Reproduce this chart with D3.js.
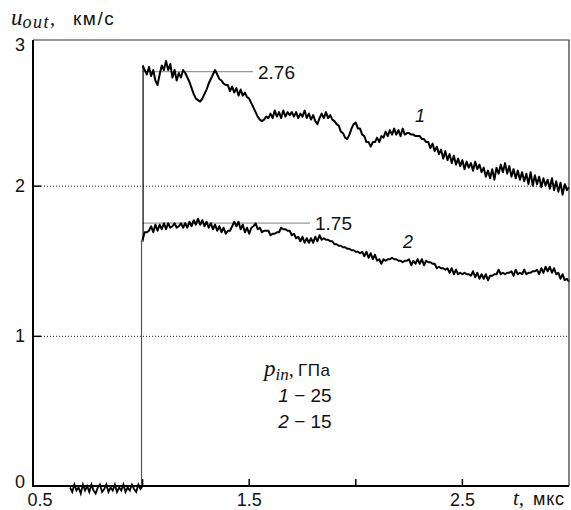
<!DOCTYPE html>
<html>
<head>
<meta charset="utf-8">
<script src="https://cdn.jsdelivr.net/npm/d3@7/dist/d3.min.js"></script>
<style>
  html, body { margin: 0; padding: 0; background: #fff; }
  svg { display: block; }
  .sans { font-family: "Liberation Sans", Arial, Helvetica, sans-serif; }
  .serif { font-family: "Liberation Serif", "Times New Roman", serif; font-style: italic; }
</style>
</head>
<body>
<svg id="chart" width="571" height="510"></svg>
<script>
// --- data ---
// sampled every 0.01 mks
const dt = 0.01;
// pre-shock noise, t = 0.66 .. 1.00
const baseStart = 0.66;
const baseline = [-0.01, -0.04, 0.01, -0.03, -0.01, -0.05, 0.01, -0.03, 0.00, -0.04,
                  0.01, -0.03, -0.05, -0.01, 0.01, -0.04, -0.02, 0.01, -0.04, -0.01,
                  -0.03, 0.01, -0.04, -0.01, -0.03, 0.01, -0.04, -0.01, -0.03, 0.01,
                  -0.02, -0.04, 0.01, -0.02, 0.00];
// curve 1 (25 GPa), t = 1.00 .. 3.00
const curveStart = 1.0;
const curve1 = [2.80, 2.77, 2.74, 2.79, 2.73, 2.77, 2.70, 2.67, 2.74, 2.80,
                2.77, 2.83, 2.77, 2.81, 2.72, 2.77, 2.70, 2.75, 2.72, 2.77,
                2.75, 2.72, 2.69, 2.65, 2.61, 2.58, 2.57, 2.56, 2.58, 2.61,
                2.64, 2.68, 2.71, 2.74, 2.77, 2.74, 2.71, 2.70, 2.68, 2.67,
                2.67, 2.63, 2.66, 2.62, 2.65, 2.60, 2.64, 2.60, 2.62, 2.59,
                2.58, 2.55, 2.52, 2.49, 2.46, 2.44, 2.43, 2.44, 2.46, 2.45,
                2.48, 2.45, 2.50, 2.46, 2.49, 2.45, 2.50, 2.46, 2.49, 2.47,
                2.49, 2.46, 2.49, 2.45, 2.48, 2.46, 2.50, 2.45, 2.48, 2.44,
                2.47, 2.43, 2.41, 2.45, 2.48, 2.45, 2.49, 2.45, 2.47, 2.44,
                2.43, 2.41, 2.40, 2.36, 2.35, 2.32, 2.31, 2.34, 2.38, 2.41,
                2.42, 2.38, 2.38, 2.34, 2.33, 2.29, 2.29, 2.26, 2.29, 2.29,
                2.32, 2.29, 2.33, 2.32, 2.36, 2.33, 2.37, 2.34, 2.38, 2.34,
                2.37, 2.33, 2.38, 2.34, 2.35, 2.35, 2.34, 2.34, 2.33, 2.33,
                2.33, 2.31, 2.31, 2.29, 2.29, 2.25, 2.28, 2.23, 2.26, 2.21,
                2.24, 2.18, 2.23, 2.17, 2.21, 2.15, 2.20, 2.14, 2.18, 2.13,
                2.17, 2.11, 2.16, 2.12, 2.15, 2.10, 2.16, 2.11, 2.14, 2.09,
                2.12, 2.06, 2.10, 2.05, 2.11, 2.04, 2.12, 2.08, 2.14, 2.09,
                2.15, 2.08, 2.13, 2.06, 2.11, 2.05, 2.10, 2.04, 2.09, 2.03,
                2.08, 2.01, 2.09, 2.00, 2.07, 2.01, 2.06, 1.99, 2.05, 2.00,
                2.04, 1.98, 2.05, 1.97, 2.03, 1.96, 2.02, 1.94, 2.01, 1.97,
                1.99];
// curve 2 (15 GPa), t = 1.00 .. 3.00
const curve2 = [1.64, 1.69, 1.69, 1.70, 1.73, 1.69, 1.74, 1.70, 1.74, 1.71,
                1.75, 1.71, 1.75, 1.72, 1.73, 1.75, 1.72, 1.73, 1.75, 1.72,
                1.75, 1.72, 1.76, 1.73, 1.77, 1.74, 1.78, 1.74, 1.77, 1.73,
                1.76, 1.72, 1.75, 1.71, 1.74, 1.70, 1.73, 1.69, 1.72, 1.68,
                1.70, 1.70, 1.73, 1.76, 1.73, 1.76, 1.71, 1.74, 1.69, 1.72,
                1.68, 1.72, 1.73, 1.75, 1.71, 1.72, 1.69, 1.70, 1.70, 1.70,
                1.67, 1.68, 1.68, 1.69, 1.69, 1.72, 1.71, 1.71, 1.70, 1.70,
                1.67, 1.68, 1.65, 1.66, 1.63, 1.66, 1.62, 1.65, 1.62, 1.65,
                1.62, 1.66, 1.63, 1.67, 1.64, 1.65, 1.64, 1.64, 1.63, 1.63,
                1.61, 1.61, 1.60, 1.60, 1.59, 1.59, 1.58, 1.58, 1.57, 1.57,
                1.56, 1.56, 1.55, 1.56, 1.53, 1.56, 1.52, 1.55, 1.51, 1.54,
                1.50, 1.51, 1.48, 1.51, 1.50, 1.51, 1.51, 1.52, 1.51, 1.51,
                1.50, 1.50, 1.49, 1.50, 1.50, 1.51, 1.47, 1.50, 1.48, 1.51,
                1.48, 1.51, 1.47, 1.50, 1.49, 1.49, 1.48, 1.48, 1.45, 1.46,
                1.45, 1.45, 1.44, 1.45, 1.42, 1.45, 1.41, 1.44, 1.41, 1.42,
                1.41, 1.42, 1.41, 1.41, 1.40, 1.43, 1.39, 1.42, 1.38, 1.41,
                1.38, 1.41, 1.37, 1.40, 1.40, 1.41, 1.41, 1.44, 1.41, 1.42,
                1.41, 1.42, 1.42, 1.43, 1.40, 1.44, 1.41, 1.42, 1.41, 1.44,
                1.41, 1.42, 1.42, 1.43, 1.43, 1.44, 1.41, 1.45, 1.42, 1.46,
                1.43, 1.46, 1.42, 1.45, 1.41, 1.42, 1.38, 1.41, 1.37, 1.38,
                1.36];
const jumpT = [1.0, 0.995];          // shock arrival, curve 1 / curve 2
const peaks = [2.76, 1.75];          // marked values
const peakLabels = ['2.76', '1.75'];
const curveNames = ['1', '2'];
const legendRows = [['1', '25'], ['2', '15']];
const yTicks = [0, 1, 2, 3];
const yGrid = [1, 2];
const xTicks = [1.0, 1.5, 2.0, 2.5];
const xTickLabels = [0.5, 1.5, 2.5];

// --- scales ---
const svg = d3.select('#chart');
const x = d3.scaleLinear().domain([0.486, 3.0]).range([33, 569]);
const y = d3.scaleLinear().domain([0, 2.97]).range([486, 40]);
const [x0, x1] = x.range();
const [yb, yt] = y.range();

const toPts = (arr, t0) => arr.map((v, i) => [t0 + i * dt, v]);
const line = d3.line().x(d => x(d[0])).y(d => y(d[1]));

// grid (dotted)
svg.append('g').selectAll('line').data(yGrid).join('line')
    .attr('x1', x0 + 8).attr('x2', x1)
    .attr('y1', d => y(d) + 0.5).attr('y2', d => y(d) + 0.5)
    .attr('stroke', '#222').attr('stroke-width', 1)
    .attr('stroke-dasharray', '1,2');

// annotation lines
peaks.forEach((p, i) => {
    svg.append('line')
        .attr('x1', x(jumpT[0])).attr('x2', i === 0 ? 253 : 310)
        .attr('y1', y(p)).attr('y2', y(p))
        .attr('stroke', '#999').attr('stroke-width', 1.2);
    svg.append('text').attr('class', 'sans')
        .attr('x', i === 0 ? 258 : 315).attr('y', y(p) + 7)
        .attr('font-size', 19).attr('fill', '#111')
        .text(peakLabels[i]);
});

// traces
svg.append('path').datum(toPts(baseline, baseStart))
    .attr('d', line).attr('fill', 'none').attr('stroke', '#000').attr('stroke-width', 1.8);

// jump fronts
svg.append('line')
    .attr('x1', x(jumpT[1])).attr('x2', x(jumpT[1]))
    .attr('y1', y(0)).attr('y2', y(curve2[0]))
    .attr('stroke', '#555').attr('stroke-width', 1.2);
svg.append('line')
    .attr('x1', x(jumpT[0]) + 0.5).attr('x2', x(jumpT[0]) + 0.5)
    .attr('y1', y(curve2[0]) + 2).attr('y2', y(curve1[0]))
    .attr('stroke', '#000').attr('stroke-width', 1.2);

[curve1, curve2].forEach(c => {
    svg.append('path').datum(toPts(c, curveStart))
        .attr('d', line).attr('fill', 'none')
        .attr('stroke', '#000').attr('stroke-width', 2)
        .attr('stroke-linejoin', 'round');
});

// frame
svg.append('path')
    .attr('d', `M${x0},${yt}H${x1}V${yb}`)
    .attr('fill', 'none').attr('stroke', '#333').attr('stroke-width', 1.2);
svg.append('path')
    .attr('d', `M${x0},${yt}V${yb}H${x1}`)
    .attr('fill', 'none').attr('stroke', '#000').attr('stroke-width', 2);

// ticks
svg.append('g').selectAll('line').data(yTicks.slice(1, -1)).join('line')
    .attr('x1', x0).attr('x2', x0 + 8)
    .attr('y1', d => y(d) + 0.5).attr('y2', d => y(d) + 0.5)
    .attr('stroke', '#000').attr('stroke-width', 1.5);
svg.append('g').selectAll('line').data(xTicks).join('line')
    .attr('x1', d => x(d)).attr('x2', d => x(d))
    .attr('y1', yb).attr('y2', yb - 7)
    .attr('stroke', '#000').attr('stroke-width', 1.5);

// tick labels
svg.append('g').selectAll('text').data(yTicks).join('text')
    .attr('class', 'sans').attr('font-size', 18).attr('fill', '#111')
    .attr('text-anchor', 'end')
    .attr('x', 25)
    .attr('y', d => Math.min(Math.max(y(d), 44), 481) + 6.5)
    .text(d => d);
svg.append('g').selectAll('text').data(xTickLabels).join('text')
    .attr('class', 'sans').attr('font-size', 18).attr('fill', '#111')
    .attr('text-anchor', 'middle')
    .attr('x', d => Math.max(x(d), 40))
    .attr('y', 506)
    .text(d => d.toFixed(1));

// axis titles
const yTitle = svg.append('text').attr('x', 11).attr('y', 25).attr('fill', '#111');
yTitle.append('tspan').attr('class', 'serif').attr('font-size', 23).text('u');
yTitle.append('tspan').attr('class', 'serif').attr('font-size', 18)
    .attr('dy', 3).attr('letter-spacing', 1.5).text('out');
yTitle.append('tspan').attr('class', 'serif').attr('font-size', 20).attr('dy', -3).text(',');
svg.append('text').attr('class', 'sans').attr('x', 73).attr('y', 25)
    .attr('font-size', 19).attr('letter-spacing', 1.5).attr('fill', '#111').text('км/с');

const xTitle = svg.append('text').attr('x', 513).attr('y', 505).attr('fill', '#111');
xTitle.append('tspan').attr('class', 'serif').attr('font-size', 21).text('t,');
svg.append('text').attr('class', 'sans').attr('x', 533).attr('y', 505)
    .attr('font-size', 18).attr('letter-spacing', 0.8).attr('fill', '#111').text('мкс');

// curve numbers
svg.append('text').attr('class', 'sans').attr('font-style', 'italic')
    .attr('font-size', 18).attr('x', 415).attr('y', 122).attr('fill', '#111').text(curveNames[0]);
svg.append('text').attr('class', 'sans').attr('font-style', 'italic')
    .attr('font-size', 18).attr('x', 403).attr('y', 248).attr('fill', '#111').text(curveNames[1]);

// legend
const lg = svg.append('text').attr('x', 264).attr('y', 376).attr('fill', '#111');
lg.append('tspan').attr('class', 'serif').attr('font-size', 23).text('p');
lg.append('tspan').attr('class', 'serif').attr('font-size', 17).attr('dy', 4).text('in');
lg.append('tspan').attr('class', 'serif').attr('font-size', 20).attr('dy', -4).text(',');
svg.append('text').attr('class', 'sans').attr('x', 298).attr('y', 376)
    .attr('font-size', 17).attr('letter-spacing', 0.5).attr('fill', '#111').text('ГПа');

legendRows.forEach((r, i) => {
    const t = svg.append('text').attr('class', 'sans').attr('font-size', 19)
        .attr('text-anchor', 'middle').attr('x', 305).attr('y', 402 + i * 26).attr('fill', '#111');
    t.append('tspan').attr('font-style', 'italic').text(r[0]);
    t.append('tspan').text(' \u2212 ' + r[1]);
});
</script>
</body>
</html>
